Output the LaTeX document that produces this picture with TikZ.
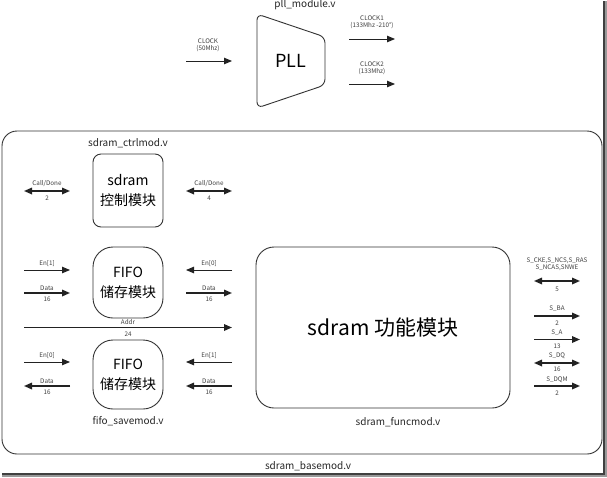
\documentclass[tikz,border=0pt]{standalone}
\usepackage{fontspec}
\setmainfont{Noto Sans CJK SC}
\usetikzlibrary{arrows.meta}
\definecolor{ln}{HTML}{222222}
\definecolor{bx}{HTML}{333333}
\tikzset{
  tip/.style={-{Triangle[length=8pt,width=6.5pt]}},
  dtip/.style={{Triangle[length=8pt,width=6.5pt]}-{Triangle[length=8pt,width=6.5pt]}},
  thinsig/.style={draw=ln,line width=0.9pt},
  thicksig/.style={draw=ln,line width=1.6pt},
  lbl/.style={font=\fontsize{6.3}{6.6}\selectfont,text=black!75,inner sep=0pt},
  title/.style={font=\fontsize{10}{11}\selectfont,text=black!85,inner sep=0pt},
  modbox/.style={draw=bx,line width=0.9pt,align=center,inner sep=0pt,font=\fontsize{14}{20}\selectfont}
}
\begin{document}
\begin{tikzpicture}[x=1pt,y=-1pt]
\useasboundingbox (0,0) rectangle (607,477);
\fill[white] (0,0) rectangle (607,477);
% screenshot shadow
\fill[black!75] (603,1) rectangle (605,474);
\fill[black!40] (605,1) rectangle (607,477);
\fill[black!75] (2,473) rectangle (605,475);
\fill[black!40] (2,475) rectangle (607,477);

% PLL
\node[title] (plltitle) at (305,5) {pll\_module.v};
\draw[bx,line width=0.9pt,rounded corners=6pt] (257,14) -- (325,37) -- (325,85) -- (257,108) -- cycle;
\node[font=\fontsize{18}{20}\selectfont,inner sep=0pt] (pll) at (291,61) {PLL};
\coordinate (ci1) at (186,61); \coordinate (ci2) at (232,61);
\draw[thinsig,tip] (ci1) -- (ci2);
\node[lbl,align=center] (clk) at (208,45) {CLOCK\\(50Mhz)};
\coordinate (c1a) at (349,39); \coordinate (c1b) at (395,39);
\draw[thinsig,tip] (c1a) -- (c1b);
\node[lbl,align=center] (clk1) at (372,22) {CLOCK1\\(133Mhz -210°)};
\coordinate (c2a) at (349,84); \coordinate (c2b) at (395,84);
\draw[thinsig,tip] (c2a) -- (c2b);
\node[lbl,align=center] (clk2) at (372,68) {CLOCK2\\(133Mhz)};

% base module
\draw[bx,line width=0.9pt,rounded corners=15pt] (2,131) rectangle (602,454);
\node[title] (basetitle) at (308,466) {sdram\_basemod.v};

% ctrl module
\node[title] (ctrltitle) at (128,143) {sdram\_ctrlmod.v};
\node[modbox,rounded corners=8pt,minimum width=70pt,minimum height=73pt] (ctrl) at (128,190.5) {sdram\\控制模块};
\coordinate (cdl1) at (24,191); \coordinate (cdl2) at (70,191);
\draw[thicksig,dtip] (cdl1) -- (cdl2);
\node[lbl] (cdlt) at (47,184) {Call/Done};
\node[lbl] (cdlb) at (47,198) {2};
\coordinate (cdr1) at (186,191); \coordinate (cdr2) at (232,191);
\draw[thicksig,dtip] (cdr1) -- (cdr2);
\node[lbl] (cdrt) at (209,184) {Call/Done};
\node[lbl] (cdrb) at (209,198) {4};

% FIFO top
\node[modbox,rounded corners=20pt,minimum width=70pt,minimum height=71pt] (fifo1) at (128,282.5) {FIFO\\储存模块};
\coordinate (a1) at (24,270); \coordinate (a2) at (70,270);
\draw[thinsig,tip] (a1) -- (a2);
\node[lbl] (a1t) at (47,264) {En[1]};
\coordinate (b1) at (24,293); \coordinate (b2) at (70,293);
\draw[thicksig,tip] (b1) -- (b2);
\node[lbl] (b1t) at (47,288) {Data};
\node[lbl] (b1b) at (47,299) {16};
\coordinate (c1) at (232,270); \coordinate (c2) at (186,270);
\draw[thinsig,tip] (c1) -- (c2);
\node[lbl] (c1t) at (209,264) {En[0]};
\coordinate (d1) at (186,293); \coordinate (d2) at (232,293);
\draw[thicksig,tip] (d1) -- (d2);
\node[lbl] (d1t) at (209,288) {Data};
\node[lbl] (d1b) at (209,299) {16};

% Addr
\coordinate (ad1) at (24,327.5); \coordinate (ad2) at (232,327.5);
\draw[thicksig,tip] (ad1) -- (ad2);
\node[lbl] (adt) at (128,322) {Addr};
\node[lbl] (adb) at (128,334) {24};

% FIFO bottom
\node[modbox,rounded corners=20pt,minimum width=70pt,minimum height=69pt] (fifo2) at (128,374.5) {FIFO\\储存模块};
\node[title] (fifotitle) at (128,421) {fifo\_savemod.v};
\coordinate (e1) at (24,362); \coordinate (e2) at (70,362);
\draw[thinsig,tip] (e1) -- (e2);
\node[lbl] (e1t) at (47,356) {En[0]};
\coordinate (f1) at (70,386); \coordinate (f2) at (24,386);
\draw[thicksig,tip] (f1) -- (f2);
\node[lbl] (f1t) at (47,381) {Data};
\node[lbl] (f1b) at (47,392) {16};
\coordinate (g1) at (232,362); \coordinate (g2) at (186,362);
\draw[thinsig,tip] (g1) -- (g2);
\node[lbl] (g1t) at (209,356) {En[1]};
\coordinate (h1) at (232,386); \coordinate (h2) at (186,386);
\draw[thicksig,tip] (h1) -- (h2);
\node[lbl] (h1t) at (209,381) {Data};
\node[lbl] (h1b) at (209,392) {16};

% func module
\node[draw=bx,line width=0.9pt,rounded corners=18pt,minimum width=254pt,minimum height=161pt,inner sep=0pt,font=\fontsize{21}{24}\selectfont] (func) at (383,327.5) {sdram 功能模块};
\node[title] (functitle) at (398,422) {sdram\_funcmod.v};

% sdram pins
\node[lbl,align=center] (p1t) at (557,264.5) {S\_CKE,S\_NCS,S\_RAS\\S\_NCAS,SNWE};
\coordinate (p1a) at (534,281); \coordinate (p1b) at (580,281);
\draw[thicksig,dtip] (p1a) -- (p1b);
\node[lbl] (p1l) at (557,289) {5};
\coordinate (p2a) at (534,316); \coordinate (p2b) at (580,316);
\draw[thicksig,tip] (p2a) -- (p2b);
\node[lbl] (p2t) at (557,309) {S\_BA};
\node[lbl] (p2l) at (557,323) {2};
\coordinate (p3a) at (534,339.5); \coordinate (p3b) at (580,339.5);
\draw[thicksig,tip] (p3a) -- (p3b);
\node[lbl] (p3t) at (557,333) {S\_A};
\node[lbl] (p3l) at (557,346) {13};
\coordinate (p4a) at (534,363); \coordinate (p4b) at (580,363);
\draw[thicksig,dtip] (p4a) -- (p4b);
\node[lbl] (p4t) at (557,356) {S\_DQ};
\node[lbl] (p4l) at (557,369.5) {16};
\coordinate (p5a) at (534,386); \coordinate (p5b) at (580,386);
\draw[thicksig,tip] (p5a) -- (p5b);
\node[lbl] (p5t) at (557,379.5) {S\_DQM};
\node[lbl] (p5l) at (557,393) {2};
\end{tikzpicture}
\end{document}
